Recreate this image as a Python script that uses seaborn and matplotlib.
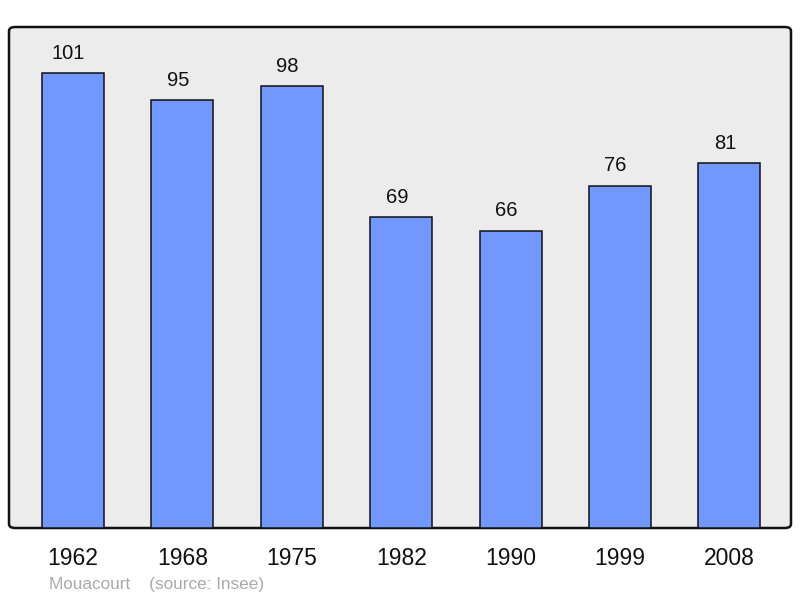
import matplotlib
matplotlib.use("Agg")
import matplotlib.pyplot as plt
import seaborn as sns
import pandas as pd
from matplotlib.patches import FancyBboxPatch

years = ["1962", "1968", "1975", "1982", "1990", "1999", "2008"]
population = [101, 95, 98, 69, 66, 76, 81]
footer = "Mouacourt    (source: Insee)"

sns.set_theme(style="white")
plt.rcParams['font.family'] = ['Liberation Sans', 'DejaVu Sans']

df = pd.DataFrame({"year": years, "pop": population})

fig = plt.figure(figsize=(8, 5.98), dpi=100)
ax = fig.add_axes([9/800, 70/598, 782/800, 501/598])
ax.set_facecolor("none")

bg = FancyBboxPatch((0, 0), 1, 1, boxstyle="round,pad=0,rounding_size=0.008",
                    transform=ax.transAxes, facecolor="#ececec", edgecolor="#111111",
                    linewidth=1.8, zorder=0, clip_on=False)
ax.add_patch(bg)

sns.barplot(data=df, x="year", y="pop", ax=ax, color="#7198ff", saturation=1,
            width=0.567, edgecolor="#111111", linewidth=1.1, zorder=2)

for i, v in enumerate(population):
    ax.text(i - 0.04, v + 2.3, str(v), ha="center", va="bottom", fontsize=14.5, color="#111111")

ax.set_xlim(-0.585, 6.563)
ax.set_ylim(0, 111.2)
ax.set_yticks([])
ax.set_xlabel("")
ax.set_ylabel("")
for s in ax.spines.values():
    s.set_visible(False)
ax.tick_params(axis="x", length=0, labelsize=16.5, pad=14, colors="#111111")

fig.text(49/800, 1 - 584/598, footer, ha="left", va="center", fontsize=12.3, color="#aaaaaa")

fig.savefig("out.png", dpi=100)
